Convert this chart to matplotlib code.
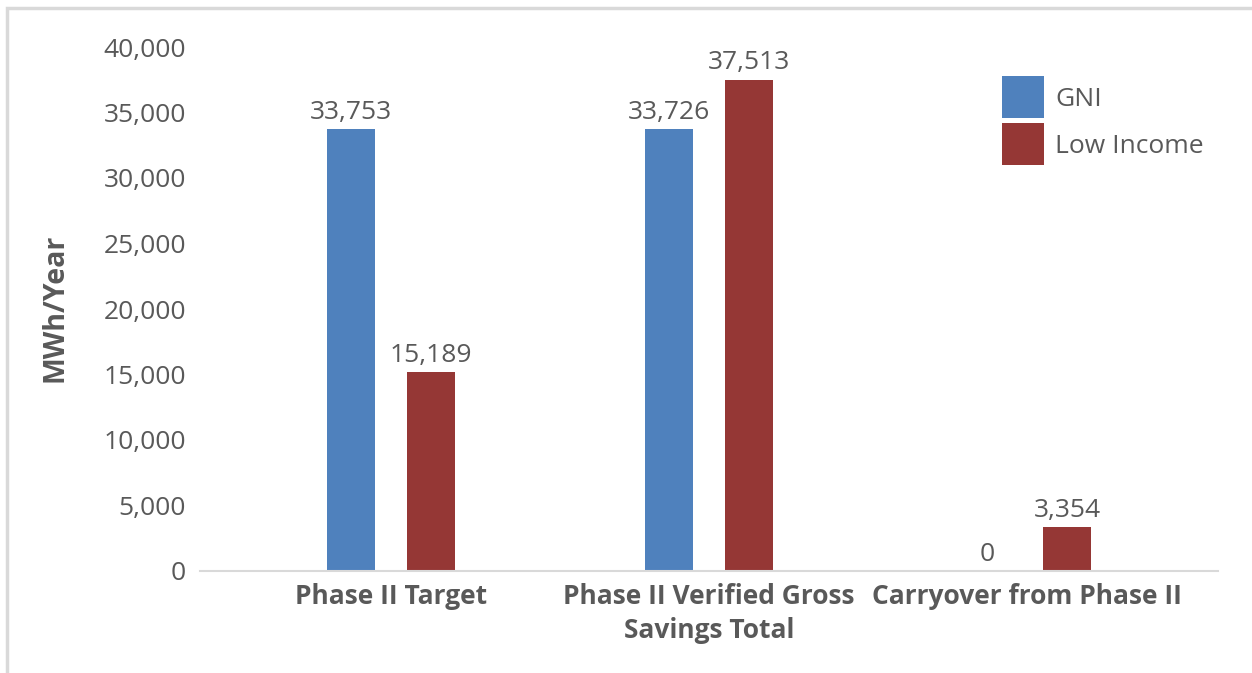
import matplotlib
matplotlib.use("Agg")
import matplotlib.pyplot as plt
import numpy as np
from matplotlib.patches import Rectangle

categories = ["Phase II Target", "Phase II Verified Gross\nSavings Total", "Carryover from Phase II"]
gni = [33753, 33726, 0]
low_income = [15189, 37513, 3354]
yticks = [0, 5000, 10000, 15000, 20000, 25000, 30000, 35000, 40000]

plt.rcParams['font.family'] = ['Open Sans', 'DejaVu Sans']
txt = "#595959"
blue = "#4F81BD"
red = "#953735"
fs = 19

fig = plt.figure(figsize=(12.52, 6.73), dpi=100)
ax = fig.add_axes([200/1252, 1-571/673, (1218-200)/1252, (571-47)/673])

x = np.arange(len(categories))
w = 0.15
b1 = ax.bar(x - 0.125, gni, w, color=blue, label="GNI")
b2 = ax.bar(x + 0.125, low_income, w, color=red, label="Low Income")
for bars, vals in [(b1, gni), (b2, low_income)]:
    for r, v in zip(bars, vals):
        ax.annotate(f"{v:,}", (r.get_x() + r.get_width()/2, v), xytext=(0, 3),
                    textcoords="offset points", ha="center", va="bottom",
                    fontsize=fs, color=txt)

ax.set_xlim(-0.6006, 2.60)
ax.set_ylim(0, 40000)
ax.set_yticks(yticks)
ax.set_yticklabels([f"{t:,}" for t in yticks], fontsize=fs, color=txt)
ax.set_xticks(x)
ax.set_xticklabels(categories, fontsize=fs, fontweight="bold", color=txt, linespacing=1.3)
ax.tick_params(axis="x", length=0, pad=9)
ax.tick_params(axis="y", length=0, pad=10)
for s in ["top", "right", "left"]:
    ax.spines[s].set_visible(False)
ax.spines["bottom"].set_color("#D9D9D9")
ax.spines["bottom"].set_linewidth(1.5)
fig.text(55/1252, 1-308/673, "MWh/Year", rotation=90, ha="center", va="center",
         fontsize=20.5, fontweight="bold", color=txt)

leg = ax.legend(loc="upper left", bbox_to_anchor=((1002-200)/1018, (571-76)/524),
                frameon=False, fontsize=fs, handlelength=1.6, handleheight=2.1,
                handletextpad=0.42, labelspacing=0.17, borderaxespad=0, borderpad=0)
for t in leg.get_texts():
    t.set_color(txt)

fig.patches.append(Rectangle((7/1252, -0.1), 1.2, 1-8/673+0.1, transform=fig.transFigure,
                             fill=False, edgecolor="#D9D9D9", linewidth=2.5))

fig.savefig("out.png", dpi=100)
